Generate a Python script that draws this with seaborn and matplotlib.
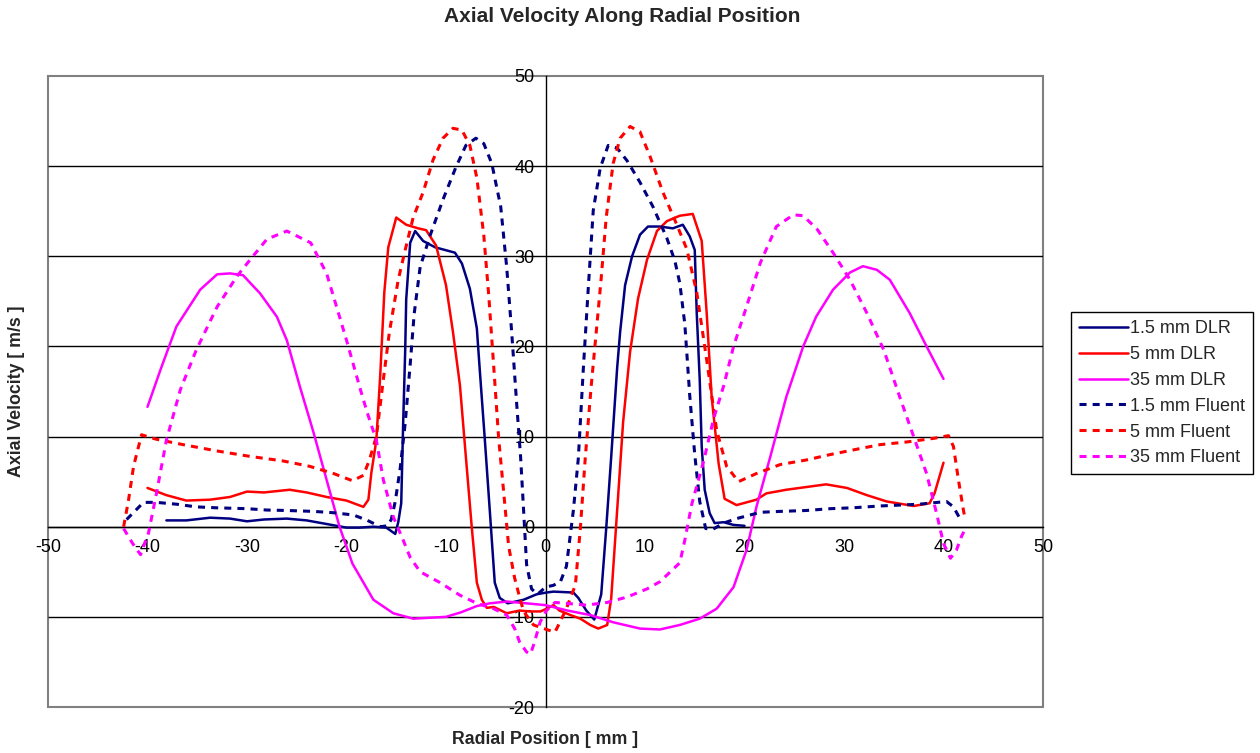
import matplotlib
matplotlib.use("Agg")
import matplotlib.pyplot as plt
import seaborn as sns

# radial profiles: x = radial position [mm], y = axial velocity [m/s]
dlr15_x = [-38.1, -36.1, -33.7, -31.7, -30.0, -28.3, -26.0, -24.0, -22.0, -20.0,
           -18.7, -17.3, -16.0, -15.1, -14.8, -14.5, -14.3, -14.1, -14.0, -13.6,
           -13.1, -12.3, -11.1, -9.1, -8.4, -7.6, -6.9, -6.6, -6.1, -5.6,
           -5.1, -4.6, -3.8, -2.2, -0.9, 0.1, 0.8, 2.8, 3.3, 4.1,
           4.9, 5.6, 6.1, 6.6, 7.2, 7.5, 8.0, 8.7, 9.5, 10.3,
           11.5, 12.8, 13.8, 14.5, 15.0, 15.2, 15.5, 15.7, 16.0, 16.5,
           17.0, 17.9, 18.9, 20.0]
dlr15_y = [0.7, 0.7, 1.0, 0.9, 0.6, 0.8, 0.9, 0.7, 0.3, -0.1,
           -0.1, 0.0, -0.1, -0.8, 0.5, 2.6, 11.7, 19.6, 25.2, 31.5,
           32.8, 31.7, 31.0, 30.4, 29.2, 26.4, 22.0, 17.3, 9.7, 1.8,
           -6.2, -7.9, -8.5, -8.1, -7.5, -7.3, -7.2, -7.3, -7.9, -9.3,
           -10.3, -7.5, -0.2, 7.7, 17.6, 21.6, 26.8, 30.0, 32.4, 33.3,
           33.3, 33.1, 33.5, 32.2, 30.7, 23.7, 16.3, 8.9, 4.1, 1.5,
           0.4, 0.5, 0.2, 0.1]

dlr5_x = [-40.0, -38.1, -36.1, -33.7, -31.7, -30.0, -28.3, -25.7, -24.0, -22.0,
          -20.0, -18.3, -17.8, -17.5, -17.0, -16.6, -16.2, -15.8, -15.0, -14.0,
          -12.8, -12.0, -11.0, -10.0, -9.3, -8.6, -8.0, -7.4, -6.9, -6.4,
          -5.9, -5.2, -3.9, -2.6, -1.6, -0.5, 0.1, 0.8, 1.4, 2.5,
          3.5, 4.5, 5.3, 6.2, 6.6, 7.2, 7.8, 8.5, 9.3, 10.2,
          11.2, 12.2, 13.5, 14.8, 15.7, 16.2, 16.7, 17.4, 18.0, 19.2,
          21.2, 22.2, 24.2, 26.2, 28.2, 30.3, 32.3, 34.3, 37.0, 38.6,
          39.1, 40.0]
dlr5_y = [4.3, 3.5, 2.9, 3.0, 3.3, 3.9, 3.8, 4.1, 3.8, 3.3,
          2.9, 2.2, 3.0, 6.0, 9.6, 17.0, 26.0, 31.0, 34.3, 33.5,
          33.1, 32.9, 31.2, 26.8, 21.6, 15.7, 7.7, -0.2, -6.2, -8.1,
          -9.0, -8.9, -9.6, -9.3, -9.4, -9.4, -9.1, -8.7, -9.3, -9.8,
          -10.2, -10.9, -11.3, -10.9, -8.0, 1.8, 11.6, 19.4, 25.3, 29.6,
          32.8, 33.9, 34.5, 34.7, 31.7, 23.7, 14.4, 7.0, 3.1, 2.4,
          3.0, 3.7, 4.1, 4.4, 4.7, 4.3, 3.5, 2.8, 2.3, 2.6,
          3.7, 7.1]

dlr35_x = [-40.0, -38.7, -37.1, -34.7, -33.0, -31.7, -30.4, -28.7, -27.0, -26.0,
           -24.7, -23.3, -22.0, -20.7, -19.4, -17.3, -15.3, -13.3, -10.0, -8.5,
           -6.9, -5.6, -3.9, -1.9, 0.0, 2.2, 4.5, 6.8, 9.5, 11.5,
           13.5, 15.5, 17.2, 18.9, 20.2, 21.2, 22.6, 24.2, 25.9, 27.2,
           28.9, 30.6, 31.9, 33.3, 34.6, 36.6, 38.3, 40.0]
dlr35_y = [13.3, 17.4, 22.2, 26.3, 28.0, 28.1, 27.9, 25.9, 23.3, 20.7,
           15.6, 10.4, 5.2, 0.0, -4.1, -8.1, -9.6, -10.2, -10.0, -9.5,
           -8.8, -8.5, -8.3, -8.5, -8.7, -9.3, -9.8, -10.6, -11.3, -11.4,
           -10.9, -10.2, -9.1, -6.7, -2.6, 2.2, 7.8, 14.4, 20.0, 23.3,
           26.3, 28.2, 28.9, 28.5, 27.4, 23.7, 20.0, 16.4]

fl15_x = [-42.1, -40.4, -39.1, -37.1, -35.1, -33.1, -30.0, -28.0, -26.0, -23.3,
          -21.3, -19.3, -17.9, -16.6, -15.9, -15.5, -15.1, -14.6, -14.1, -13.6,
          -13.2, -12.6, -11.6, -10.3, -9.0, -8.0, -7.0, -6.2, -5.4, -4.5,
          -3.9, -3.4, -2.9, -2.5, -2.2, -1.9, -1.4, -0.8, 0.0, 0.8,
          1.5, 2.1, 2.8, 3.3, 3.8, 4.3, 4.8, 5.5, 6.3, 7.2,
          8.2, 9.5, 10.8, 12.2, 13.0, 13.5, 14.0, 14.5, 15.0, 15.5,
          16.1, 16.8, 17.9, 19.2, 21.6, 23.6, 26.2, 28.6, 30.9, 33.6,
          35.6, 37.6, 40.3, 41.0, 41.8]
fl15_y = [0.8, 2.7, 2.7, 2.5, 2.2, 2.1, 2.0, 1.85, 1.8, 1.7,
          1.55, 1.3, 0.7, 0.0, 0.1, 0.8, 2.8, 6.5, 11.5, 18.0,
          23.6, 28.8, 32.3, 36.3, 39.9, 42.3, 43.1, 42.5, 40.3, 35.5,
          28.8, 21.6, 13.7, 7.7, 1.8, -4.2, -6.9, -7.5, -6.7, -6.5,
          -6.1, -4.4, 1.8, 7.6, 17.5, 26.5, 35.1, 39.8, 42.3, 42.0,
          40.6, 38.2, 35.5, 32.0, 29.5, 27.0, 22.5, 14.5, 8.0, 2.8,
          -0.2, -0.3, 0.4, 0.9, 1.6, 1.7, 1.8, 2.0, 2.1, 2.3,
          2.4, 2.5, 2.8, 2.2, 0.6]

fl5_x = [-42.4, -41.9, -41.4, -40.6, -39.1, -36.4, -33.0, -29.7, -26.4, -23.7,
         -21.3, -19.4, -18.3, -17.7, -17.0, -16.3, -15.7, -14.8, -14.1, -13.3,
         -12.3, -11.3, -10.3, -9.3, -8.4, -7.6, -6.9, -6.2, -5.7, -5.2,
         -4.7, -4.2, -3.7, -3.1, -2.7, -2.2, -1.2, 0.1, 0.95, 1.4,
         2.1, 2.6, 3.0, 3.5, 4.0, 4.6, 5.1, 5.6, 6.1, 6.8,
         7.5, 8.5, 9.5, 10.5, 11.8, 13.2, 14.2, 15.2, 16.2, 17.2,
         18.2, 19.4, 21.2, 23.6, 26.2, 28.6, 31.3, 33.6, 36.3, 39.0,
         40.5, 41.0, 41.5, 42.0, 42.2]
fl5_y = [0.0, 3.0, 6.7, 10.2, 9.7, 9.1, 8.4, 7.8, 7.3, 6.7,
         5.9, 5.1, 5.7, 7.4, 10.0, 16.3, 21.5, 27.4, 30.7, 34.3,
         37.1, 40.7, 43.1, 44.2, 44.0, 42.3, 38.7, 32.3, 25.6, 17.7,
         9.7, 3.8, -2.2, -5.7, -7.4, -9.4, -10.9, -11.4, -11.7, -10.7,
         -9.1, -7.6, -6.5, -0.2, 7.7, 15.7, 21.6, 27.6, 34.3, 40.3,
         43.1, 44.4, 43.8, 41.1, 37.1, 33.5, 30.8, 26.0, 18.5, 10.7,
         6.7, 5.0, 5.9, 6.9, 7.4, 8.0, 8.6, 9.1, 9.4, 9.8,
         10.1, 8.9, 5.2, 1.85, 0.7]

fl35_x = [-42.4, -41.5, -40.7, -39.9, -39.1, -38.1, -36.7, -35.1, -33.0, -31.0,
          -29.7, -28.0, -26.0, -23.6, -22.0, -20.0, -18.6, -17.9, -17.0, -16.3,
          -15.3, -14.3, -13.6, -12.6, -10.6, -8.6, -6.9, -5.2, -3.9, -3.1,
          -2.6, -1.9, -1.5, -1.1, -0.55, 0.1, 0.95, 2.1, 4.1, 6.2,
          8.2, 10.2, 11.5, 13.5, 14.0, 14.7, 15.9, 16.9, 17.9, 18.9,
          20.2, 21.6, 23.2, 24.9, 25.9, 27.3, 28.9, 30.6, 32.3, 34.0,
          35.6, 37.0, 38.3, 39.3, 40.0, 40.7, 41.3, 41.8, 42.3]
fl35_y = [-0.2, -1.85, -3.1, -0.7, 3.7, 9.6, 15.2, 19.6, 24.4, 27.8,
          29.6, 31.9, 32.8, 31.5, 28.1, 20.7, 15.2, 12.6, 9.6, 5.2,
          1.1, -1.5, -3.4, -5.0, -6.2, -7.6, -8.5, -9.1, -9.8, -11.3,
          -12.8, -13.9, -14.1, -12.8, -10.6, -9.3, -8.4, -8.5, -8.7, -8.4,
          -7.8, -6.9, -6.1, -4.0, -1.5, 2.5, 7.3, 12.0, 15.6, 20.0,
          24.4, 29.3, 33.3, 34.6, 34.5, 33.0, 30.4, 27.4, 23.7, 19.6,
          14.4, 10.0, 5.9, 1.5, -1.85, -3.5, -2.6, -1.1, 0.0]

series_labels = ["1.5 mm DLR", "5 mm DLR", "35 mm DLR",
                 "1.5 mm Fluent", "5 mm Fluent", "35 mm Fluent"]
x_ticks = list(range(-50, 51, 10))
y_ticks = list(range(-20, 51, 10))

sns.set_style("white")
plt.rcParams["font.family"] = ["Liberation Sans", "DejaVu Sans"]
plt.rcParams["axes.unicode_minus"] = False

fig = plt.figure(figsize=(12.6, 7.53), dpi=100)
ax = fig.add_axes([48 / 1260, 46 / 753, 995 / 1260, 631 / 753])

dash = (0, (2.3, 2.0))
series = [
    (dlr15_x, dlr15_y, "#000080", "-", 1.8),
    (dlr5_x, dlr5_y, "#FF0000", "-", 1.8),
    (dlr35_x, dlr35_y, "#FF00FF", "-", 1.8),
    (fl15_x, fl15_y, "#000080", dash, 2.2),
    (fl5_x, fl5_y, "#FF0000", dash, 2.2),
    (fl35_x, fl35_y, "#FF00FF", dash, 2.2),
]
for (xs, ys, col, ls, lw), name in zip(series, series_labels):
    sns.lineplot(x=xs, y=ys, sort=False, estimator=None, color=col,
                 linestyle=ls, linewidth=lw, label=name, ax=ax, zorder=3)

ax.set_xlim(-50, 50)
ax.set_ylim(-20, 50)
ax.set_xticks(x_ticks)
ax.set_yticks(y_ticks)
ax.hlines(y_ticks[1:-1], -50, 50, colors="black", linewidth=1, zorder=1)

# Excel style: axes cross at zero, grey plot-area border
ax.spines["left"].set_position(("data", 0))
ax.spines["bottom"].set_position(("data", 0))
for s in ["left", "bottom"]:
    ax.spines[s].set_color("black")
    ax.spines[s].set_linewidth(1)
    ax.spines[s].set_zorder(2)
for s in ["top", "right"]:
    ax.spines[s].set_visible(False)
ax.patch.set_edgecolor("#808080")
ax.patch.set_linewidth(1.5)

ax.tick_params(axis="both", direction="out", length=5, width=1, color="black",
               labelsize=13, labelcolor="black")
ax.tick_params(axis="x", pad=4)
ax.tick_params(axis="y", pad=3)
ax.set_xlabel("")
ax.set_ylabel("")

fig.text(622 / 1260, 1 - 17 / 753, "Axial Velocity Along Radial Position",
         ha="center", va="center", fontsize=15, fontweight="bold")
fig.text(545 / 1260, 1 - 739 / 753, "Radial Position [ mm ]",
         ha="center", va="center", fontsize=12.8, fontweight="bold")
fig.text(17 / 1260, 1 - 391 / 753, "Axial Velocity [ m/s ]", rotation=90,
         ha="center", va="center", fontsize=12.8, fontweight="bold")

ax.legend(loc="upper left", bbox_to_anchor=(1071 / 1260, 1 - 312 / 753),
          bbox_transform=fig.transFigure, frameon=True, fancybox=False,
          edgecolor="black", framealpha=1, fontsize=13, handlelength=2.7,
          handletextpad=0.1, labelspacing=0.49, borderpad=0.45, borderaxespad=0)
ax.get_legend().get_frame().set_linewidth(1)

fig.savefig("out.png", dpi=100)
